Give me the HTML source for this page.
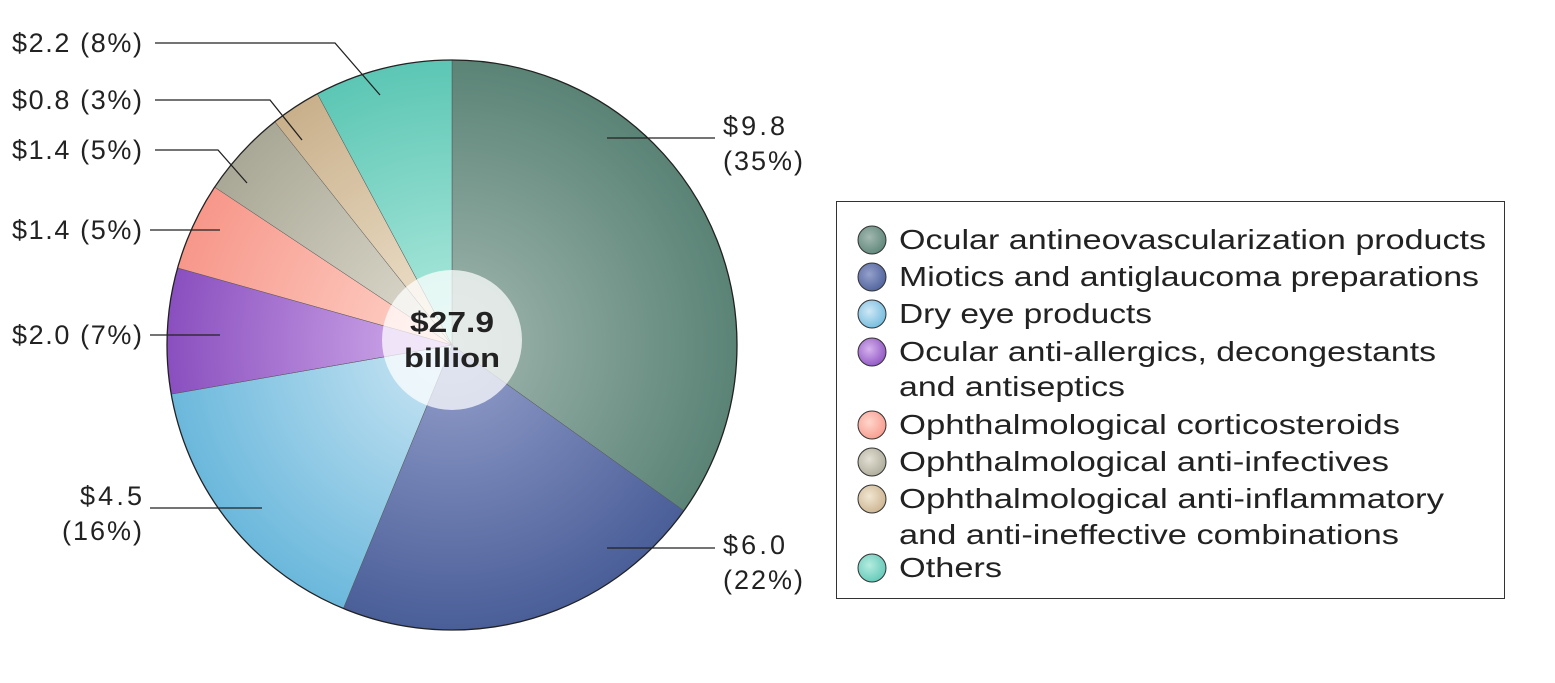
<!DOCTYPE html>
<html><head><meta charset="utf-8"><style>
html,body{margin:0;padding:0;background:#fff;}
svg{display:block;font-family:"Liberation Sans",sans-serif;}
</style></head><body>
<svg id="s" width="1555" height="683" viewBox="0 0 1555 683" xmlns="http://www.w3.org/2000/svg">
<defs id="d"></defs>
<g id="pie"></g>
<circle cx="452" cy="340" r="70" fill="#fff" fill-opacity="0.72"/>
<text x="452" y="332" text-anchor="middle" font-size="29" font-weight="bold" fill="#222" textLength="84" lengthAdjust="spacingAndGlyphs">$27.9</text>
<text x="452" y="367" text-anchor="middle" font-size="27" font-weight="bold" fill="#222" textLength="96" lengthAdjust="spacingAndGlyphs">billion</text>
<g stroke="#222" stroke-width="1.3" fill="none">
<polyline points="607,138 715,138"/>
<polyline points="607,548 715,548"/>
<polyline points="150,508 262,508"/>
<polyline points="150,335 220,335"/>
<polyline points="150,230 220,230"/>
<polyline points="155,150 218,150 247,183"/>
<polyline points="155,100 270,100 302,140"/>
<polyline points="155,43 335,43 380,95"/>
</g>
<g font-size="27" fill="#222" lengthAdjust="spacingAndGlyphs">
<text x="723" y="135" textLength="62">$9.8</text><text x="723" y="170" textLength="80">(35%)</text>
<text x="723" y="554" textLength="62">$6.0</text><text x="723" y="589" textLength="80">(22%)</text>
<text x="80" y="505" textLength="62">$4.5</text><text x="62" y="540" textLength="80">(16%)</text>
<text x="12" y="344" textLength="130">$2.0 (7%)</text>
<text x="12" y="239" textLength="130">$1.4 (5%)</text>
<text x="12" y="159" textLength="130">$1.4 (5%)</text>
<text x="12" y="109" textLength="130">$0.8 (3%)</text>
<text x="12" y="52" textLength="130">$2.2 (8%)</text>
</g>
<rect x="836.5" y="201.5" width="668" height="397" fill="#fff" stroke="#333" stroke-width="1"/>
<g id="leg" font-size="28" fill="#222"></g>
</svg>
<script>
var vals=[9.8,6.0,4.5,2.0,1.4,1.4,0.8,2.2];
var cols=[["#a3b8b0","#5a8376"],["#95a0cc","#4a5e98"],["#cfe8f5","#6bb8dc"],["#d6b2ee","#8a4fbf"],["#ffd6cc","#f7978a"],["#e3e0d4","#a9a795"],["#f1e6d2","#c9b08b"],["#b4ece0","#5cc6b4"]];
var cx=452,cy=345,r=285,tot=0;vals.forEach(function(v){tot+=v});
var d=document.getElementById('d'),p=document.getElementById('pie');
var a=0,h='',dd='';
vals.forEach(function(v,i){
 var a2=a+v/tot*2*Math.PI;
 var x1=cx+r*Math.sin(a),y1=cy-r*Math.cos(a),x2=cx+r*Math.sin(a2),y2=cy-r*Math.cos(a2);
 dd+='<radialGradient id="g'+i+'" gradientUnits="userSpaceOnUse" cx="'+cx+'" cy="'+cy+'" r="'+r+'"><stop offset="0" stop-color="'+cols[i][0]+'"/><stop offset="1" stop-color="'+cols[i][1]+'"/></radialGradient>'+
 '<radialGradient id="l'+i+'" cx="0.4" cy="0.4" r="0.7"><stop offset="0" stop-color="'+cols[i][0]+'"/><stop offset="1" stop-color="'+cols[i][1]+'"/></radialGradient>';
 h+='<path d="M'+cx+','+cy+' L'+x1+','+y1+' A'+r+','+r+' 0 '+((a2-a)>Math.PI?1:0)+' 1 '+x2+','+y2+' Z" fill="url(#g'+i+')" stroke="#555" stroke-width="0.5"/>';
 a=a2;
});
d.innerHTML=dd;
h+='<circle cx="'+cx+'" cy="'+cy+'" r="'+r+'" fill="none" stroke="#222" stroke-width="1.3"/>';
p.innerHTML=h;
var L=[["Ocular antineovascularization products",249,0,587],["Miotics and antiglaucoma preparations",286,1,580],["Dry eye products",323,2,253],["Ocular anti-allergics, decongestants",361,3,537],["and antiseptics",396,-1,226],["Ophthalmological corticosteroids",434,4,501],["Ophthalmological anti-infectives",471,5,490],["Ophthalmological anti-inflammatory",508,6,545],["and anti-ineffective combinations",544,-1,500],["Others",577,7,103]];
var g='';
L.forEach(function(l){
 if(l[2]>=0)g+='<circle cx="872" cy="'+(l[1]-9)+'" r="14" fill="url(#l'+l[2]+')" stroke="#333" stroke-width="1"/>';
 g+='<text x="899" y="'+l[1]+'" textLength="'+l[3]+'" lengthAdjust="spacingAndGlyphs">'+l[0]+'</text>';
});
document.getElementById('leg').innerHTML=g;
</script>
</body></html>
